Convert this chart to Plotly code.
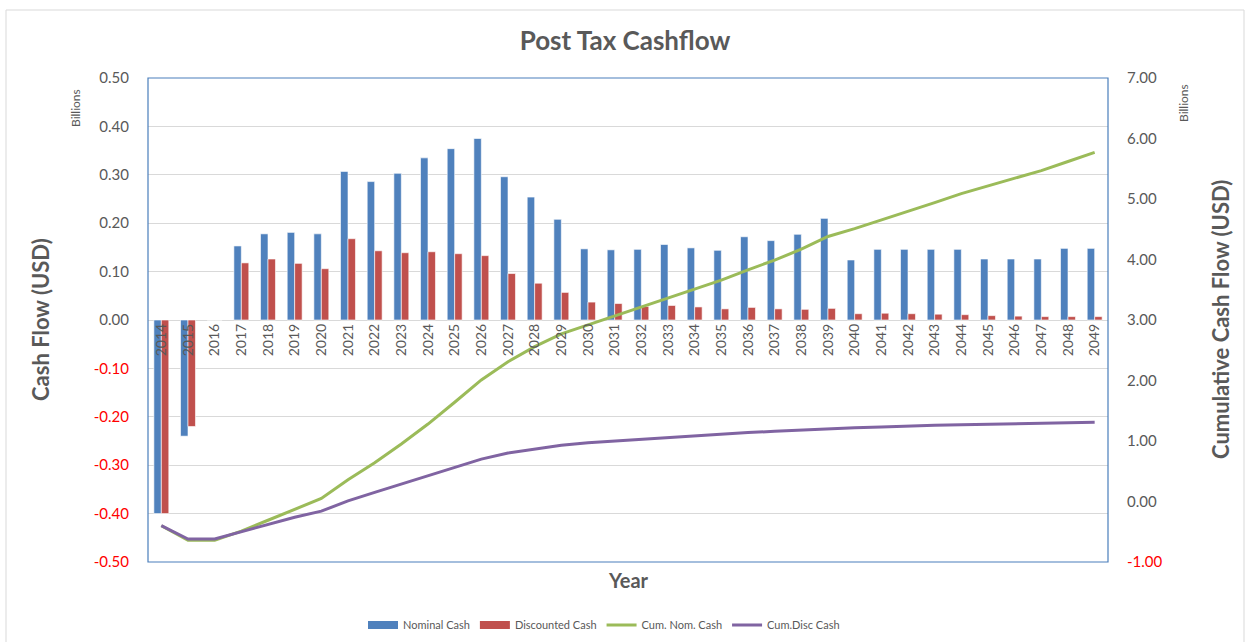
import plotly.graph_objects as go

years = ["2014", "2015", "2016", "2017", "2018", "2019", "2020", "2021", "2022", "2023",
         "2024", "2025", "2026", "2027", "2028", "2029", "2030", "2031", "2032", "2033",
         "2034", "2035", "2036", "2037", "2038", "2039", "2040", "2041", "2042", "2043",
         "2044", "2045", "2046", "2047", "2048", "2049"]

nominal_cash = [-0.40, -0.24, 0.0, 0.153, 0.178, 0.181, 0.178, 0.307, 0.286, 0.303,
                0.335, 0.354, 0.375, 0.296, 0.254, 0.208, 0.147, 0.145, 0.146, 0.156,
                0.149, 0.144, 0.172, 0.164, 0.177, 0.210, 0.124, 0.146, 0.146, 0.146,
                0.146, 0.126, 0.126, 0.126, 0.148, 0.148]

discounted_cash = [-0.40, -0.22, 0.0, 0.118, 0.126, 0.117, 0.106, 0.168, 0.143, 0.139,
                   0.141, 0.137, 0.133, 0.096, 0.076, 0.057, 0.037, 0.034, 0.028, 0.030,
                   0.027, 0.023, 0.026, 0.023, 0.022, 0.024, 0.013, 0.014, 0.013, 0.012,
                   0.011, 0.009, 0.008, 0.007, 0.007, 0.007]

cum_nom_cash = [-0.40, -0.64, -0.64, -0.49, -0.31, -0.13, 0.05, 0.36, 0.64, 0.95,
                1.28, 1.64, 2.01, 2.31, 2.56, 2.77, 2.92, 3.06, 3.21, 3.36,
                3.51, 3.66, 3.83, 3.99, 4.17, 4.38, 4.51, 4.65, 4.80, 4.94,
                5.09, 5.22, 5.34, 5.47, 5.62, 5.77]

cum_disc_cash = [-0.40, -0.62, -0.62, -0.50, -0.38, -0.26, -0.16, 0.01, 0.15, 0.29,
                 0.43, 0.57, 0.70, 0.80, 0.87, 0.93, 0.97, 1.00, 1.03, 1.06,
                 1.09, 1.11, 1.14, 1.16, 1.18, 1.21, 1.22, 1.23, 1.25, 1.26,
                 1.27, 1.28, 1.29, 1.30, 1.30, 1.31]

left_ticks = [0.5, 0.4, 0.3, 0.2, 0.1, 0.0, -0.1, -0.2, -0.3, -0.4, -0.5]
right_ticks = [7, 6, 5, 4, 3, 2, 1, 0, -1]

FONT = "Lato, 'Open Sans', sans-serif"
GREY = "#595959"
BLUE, RED, GREEN, PURPLE = "#4F81BD", "#C0504D", "#9BBB59", "#8064A2"


def fmt(v):
    s = f"{v:.2f}"
    if v < 0:
        return f"<span style='color:#FF0000'>{s}</span>"
    return s


fig = go.Figure()
fig.add_trace(go.Bar(x=years, y=nominal_cash, name="Nominal Cash", showlegend=False,
                     marker=dict(color=BLUE, line=dict(color="white", width=0.6))))
fig.add_trace(go.Bar(x=years, y=discounted_cash, name="Discounted Cash", showlegend=False,
                     marker=dict(color=RED, line=dict(color="white", width=0.6))))
fig.add_trace(go.Scatter(x=years, y=cum_nom_cash, name="Cum. Nom. Cash", yaxis="y2",
                         mode="lines", line=dict(color=GREEN, width=3), showlegend=False))
fig.add_trace(go.Scatter(x=years, y=cum_disc_cash, name="Cum.Disc Cash", yaxis="y2",
                         mode="lines", line=dict(color=PURPLE, width=3), showlegend=False))

# legend-only entries (wide rectangles for the bar series, as in the original)
for name, color, width in [("Nominal Cash", BLUE, 8), ("Discounted Cash", RED, 8),
                           ("Cum. Nom. Cash", GREEN, 3), ("Cum.Disc Cash", PURPLE, 3)]:
    fig.add_trace(go.Scatter(x=[None], y=[None], name=name, mode="lines",
                             line=dict(color=color, width=width), hoverinfo="skip"))

fig.update_layout(
    width=1250, height=642,
    margin=dict(l=148, r=142, t=78, b=80),
    paper_bgcolor="white", plot_bgcolor="white",
    font=dict(family=FONT, color=GREY),
    barmode="group", bargap=0.44, bargroupgap=0.0,
    title=dict(text="<b>Post Tax Cashflow</b>", x=0.5, xanchor="center", y=0.937, yanchor="middle",
               font=dict(size=26, color=GREY, family=FONT)),
    xaxis=dict(type="category", anchor="free", position=0.5, showgrid=False, showline=False,
               ticks="", tickangle=-90, tickfont=dict(size=14, color=GREY), zeroline=False),
    yaxis=dict(range=[-0.5, 0.5], tickvals=left_ticks, ticktext=[fmt(v) for v in left_ticks],
               showgrid=True, gridcolor="#D9D9D9", gridwidth=1, zeroline=False,
               showline=False, ticks="", tickfont=dict(size=15, color=GREY), ticklabelstandoff=18),
    yaxis2=dict(range=[-1, 7], overlaying="y", side="right", tickvals=right_ticks,
                ticktext=[fmt(v) for v in right_ticks], showgrid=False, zeroline=False,
                showline=False, ticks="", tickfont=dict(size=15, color=GREY), ticklabelstandoff=18),
    legend=dict(orientation="h", x=(604 - 148) / 960, xanchor="center", yref="container",
                y=(642 - 625) / 642, yanchor="middle",
                font=dict(size=11, color=GREY), itemwidth=30, traceorder="normal"),
    showlegend=True,
)

# plot-area frame and outer chart border
fig.add_shape(type="rect", xref="paper", yref="paper", x0=0, x1=1, y0=0, y1=1,
              line=dict(color="#4A7EBB", width=1.2), layer="above")
fig.add_shape(type="rect", xref="paper", yref="paper",
              x0=(6 - 148) / 960, x1=(1244 - 148) / 960, y0=(562 - 650) / 484, y1=(562 - 10) / 484,
              line=dict(color="#D9D9D9", width=1), layer="below")

annots = [
    dict(text="<b>Cash Flow (USD)</b>", x=(40 - 148) / 960, y=0.5, textangle=-90, size=22),
    dict(text="<b>Cumulative Cash Flow (USD)</b>", x=(1220 - 148) / 960, y=0.5, textangle=-90, size=22),
    dict(text="<b>Year</b>", x=0.5, y=(562 - 580) / 484, textangle=0, size=20),
    dict(text="Billions", x=(75 - 148) / 960, y=(562 - 108) / 484, textangle=-90, size=12),
    dict(text="Billions", x=(1183 - 148) / 960, y=(562 - 103) / 484, textangle=-90, size=12),
]
for a in annots:
    fig.add_annotation(text=a["text"], xref="paper", yref="paper", x=a["x"], y=a["y"],
                       xanchor="center", yanchor="middle", showarrow=False, textangle=a["textangle"],
                       font=dict(size=a["size"], color=GREY, family=FONT))

fig.write_html("out.html", config={"displayModeBar": False},
               post_script="document.body.style.margin='0';document.body.style.overflow='hidden';")
